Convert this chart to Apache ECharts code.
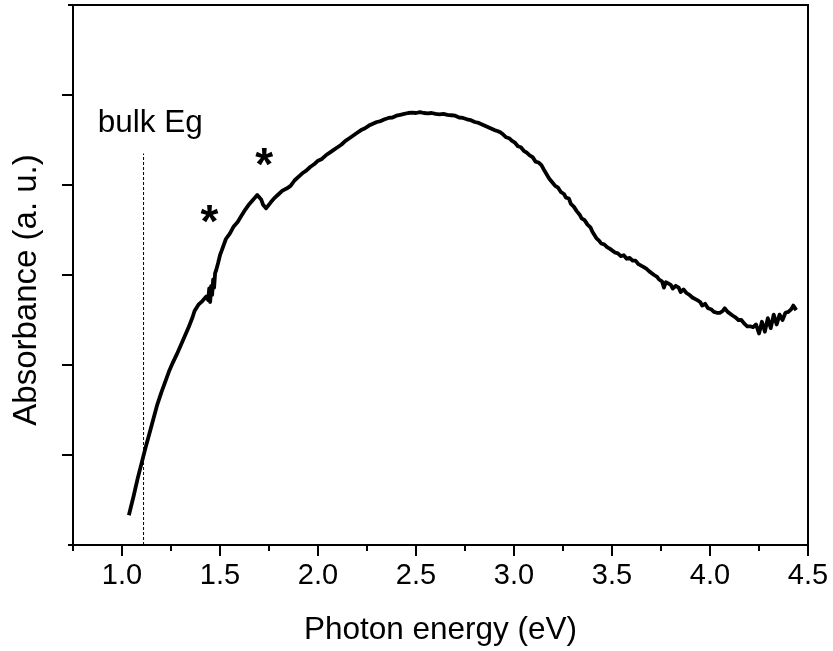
<!DOCTYPE html>
<html>
<head>
<meta charset="utf-8">
<script src="https://cdn.jsdelivr.net/npm/echarts@6/dist/echarts.min.js"></script>
<style>
  html, body { margin: 0; padding: 0; background: #fff; }
  #chart { width: 833px; height: 651px; }
</style>
</head>
<body>
<div id="chart"></div>
<script>
// absorbance spectrum (eV, a.u.)
const absorbance = [
  [1.035, 0.33], [1.06, 0.55], [1.08, 0.74], [1.10, 0.91], [1.12, 1.08], [1.14, 1.24],
  [1.16, 1.40], [1.18, 1.56], [1.20, 1.69], [1.22, 1.81], [1.24, 1.93], [1.26, 2.03],
  [1.28, 2.12], [1.30, 2.22], [1.32, 2.32], [1.34, 2.42], [1.36, 2.53], [1.37, 2.60],
  [1.38, 2.62], [1.39, 2.67], [1.40, 2.66], [1.41, 2.71], [1.42, 2.70], [1.43, 2.76],
  [1.44, 2.72], [1.445, 2.85], [1.45, 2.70], [1.455, 2.88], [1.46, 2.78], [1.465, 2.95],
  [1.47, 2.86], [1.475, 3.02], [1.48, 3.05], [1.49, 3.13], [1.50, 3.22], [1.51, 3.28],
  [1.53, 3.40], [1.55, 3.46], [1.57, 3.54], [1.59, 3.59], [1.61, 3.66], [1.63, 3.73],
  [1.65, 3.79], [1.67, 3.84], [1.69, 3.89], [1.70, 3.90], [1.71, 3.84], [1.72, 3.78],
  [1.735, 3.74], [1.745, 3.76], [1.76, 3.81], [1.78, 3.86], [1.80, 3.90], [1.82, 3.94],
  [1.84, 3.96], [1.86, 3.99], [1.88, 4.05], [1.90, 4.09], [1.92, 4.13], [1.94, 4.16],
  [1.96, 4.20], [1.98, 4.23], [2.00, 4.27], [2.02, 4.29], [2.04, 4.33], [2.06, 4.36],
  [2.08, 4.39], [2.10, 4.42], [2.12, 4.45], [2.14, 4.49], [2.16, 4.52], [2.18, 4.55],
  [2.20, 4.58], [2.22, 4.61], [2.24, 4.63], [2.26, 4.66], [2.28, 4.68], [2.30, 4.70],
  [2.32, 4.71], [2.34, 4.73], [2.36, 4.745], [2.38, 4.75], [2.40, 4.77], [2.42, 4.78],
  [2.44, 4.79], [2.46, 4.80], [2.48, 4.805], [2.50, 4.80], [2.52, 4.81], [2.54, 4.80],
  [2.56, 4.795], [2.58, 4.80], [2.60, 4.79], [2.62, 4.785], [2.64, 4.79], [2.66, 4.78],
  [2.68, 4.775], [2.70, 4.77], [2.72, 4.75], [2.74, 4.745], [2.76, 4.73], [2.78, 4.72],
  [2.80, 4.70], [2.82, 4.69], [2.84, 4.67], [2.86, 4.65], [2.88, 4.63], [2.90, 4.61],
  [2.915, 4.60], [2.93, 4.585], [2.945, 4.56], [2.96, 4.53], [2.975, 4.52], [2.99, 4.49],
  [3.005, 4.47], [3.02, 4.43], [3.035, 4.42], [3.05, 4.38], [3.065, 4.36], [3.08, 4.33],
  [3.095, 4.31], [3.11, 4.26], [3.125, 4.25], [3.14, 4.22], [3.155, 4.16], [3.165, 4.17],
  [3.18, 4.07], [3.195, 4.03], [3.21, 3.99], [3.225, 3.97], [3.24, 3.92], [3.255, 3.90],
  [3.265, 3.86], [3.28, 3.85], [3.29, 3.79], [3.305, 3.76], [3.32, 3.71], [3.335, 3.67],
  [3.345, 3.63], [3.36, 3.61], [3.375, 3.56], [3.39, 3.53], [3.40, 3.48], [3.41, 3.46],
  [3.42, 3.41], [3.435, 3.38], [3.445, 3.35], [3.46, 3.34], [3.475, 3.31], [3.49, 3.29],
  [3.50, 3.29], [3.515, 3.25], [3.53, 3.24], [3.545, 3.21], [3.56, 3.22], [3.575, 3.18],
  [3.59, 3.19], [3.605, 3.16], [3.62, 3.16], [3.635, 3.12], [3.645, 3.14], [3.66, 3.09],
  [3.675, 3.07], [3.69, 3.04], [3.70, 3.05], [3.715, 3.00], [3.73, 2.98], [3.74, 2.95],
  [3.755, 2.93], [3.765, 2.86], [3.775, 2.92], [3.785, 2.90], [3.80, 2.89], [3.81, 2.85],
  [3.825, 2.88], [3.84, 2.86], [3.85, 2.81], [3.865, 2.84], [3.88, 2.80], [3.895, 2.78],
  [3.91, 2.75], [3.92, 2.77], [3.935, 2.72], [3.95, 2.70], [3.96, 2.66], [3.975, 2.68],
  [3.99, 2.63], [4.005, 2.62], [4.02, 2.59], [4.035, 2.58], [4.05, 2.58], [4.065, 2.60],
  [4.075, 2.63], [4.09, 2.59], [4.10, 2.61], [4.115, 2.55], [4.13, 2.53], [4.145, 2.50],
  [4.16, 2.50], [4.175, 2.46], [4.19, 2.43], [4.205, 2.43], [4.22, 2.42], [4.235, 2.45],
  [4.25, 2.35], [4.265, 2.48], [4.28, 2.37], [4.295, 2.52], [4.31, 2.41], [4.325, 2.56],
  [4.34, 2.45], [4.355, 2.56], [4.37, 2.50], [4.385, 2.58], [4.40, 2.59], [4.415, 2.62],
  [4.425, 2.66], [4.44, 2.61]
];

const bulkEg = [[1.11, 0], [1.11, 4.35]];
const notes = [
  { value: [1.144, 4.69], text: 'bulk Eg' },
  { value: [1.446, 3.56], text: '*' },
  { value: [1.726, 4.20], text: '*' }
];

const xMajor = [1.0, 1.5, 2.0, 2.5, 3.0, 3.5, 4.0, 4.5];
const xMinor = [0.75, 1.25, 1.75, 2.25, 2.75, 3.25, 3.75, 4.25];
const yMajor = [1, 2, 3, 4, 5];
const yEnds = [0, 6];

const font = 'Liberation Sans, Arial, sans-serif';
const xRange = { min: 0.75, max: 4.5 };
const yRange = { min: 0, max: 6 };

const option = {
  backgroundColor: '#fff',
  animation: false,
  grid: {
    left: 73, right: 25, top: 5, bottom: 104,
    show: true, borderColor: '#000', borderWidth: 2, backgroundColor: 'transparent'
  },
  graphic: [
    {
      type: 'text',
      x: 27, y: 290,
      rotation: Math.PI / 2,
      style: {
        text: 'Absorbance (a. u.)',
        fontFamily: font, fontSize: 33, fill: '#000',
        align: 'center', verticalAlign: 'middle'
      }
    }
  ],
  xAxis: [
    {
      type: 'value', ...xRange,
      name: 'Photon energy (eV)', nameLocation: 'middle', nameGap: 69,
      nameTextStyle: { fontFamily: font, fontSize: 31.5, color: '#000' },
      axisLine: { show: true, onZero: false, lineStyle: { color: '#000', width: 2 } },
      axisTick: { show: true, customValues: xMajor, length: 11, lineStyle: { color: '#000', width: 2 } },
      axisLabel: { customValues: xMajor, margin: 16, fontFamily: font, fontSize: 29, color: '#000',
        formatter: v => v.toFixed(1) },
      splitLine: { show: false }
    },
    {
      type: 'value', ...xRange, position: 'bottom',
      axisLine: { show: false },
      axisTick: { show: true, customValues: xMinor, length: 6, lineStyle: { color: '#000', width: 2 } },
      axisLabel: { show: false },
      splitLine: { show: false }
    }
  ],
  yAxis: [
    {
      type: 'value', ...yRange,
      axisLine: { show: true, onZero: false, lineStyle: { color: '#000', width: 2 } },
      axisTick: { show: true, customValues: yMajor, length: 11, lineStyle: { color: '#000', width: 2 } },
      axisLabel: { show: false },
      splitLine: { show: false }
    },
    {
      type: 'value', ...yRange, position: 'left',
      axisLine: { show: false },
      axisTick: { show: true, customValues: yEnds, length: 5, lineStyle: { color: '#000', width: 2 } },
      axisLabel: { show: false },
      splitLine: { show: false }
    }
  ],
  series: [
    {
      name: 'bulk Eg line',
      type: 'line',
      data: bulkEg,
      symbol: 'none',
      lineStyle: { color: '#000', width: 1, type: [3, 2] },
      silent: true
    },
    {
      name: 'absorbance',
      type: 'line',
      data: absorbance,
      symbol: 'none',
      lineStyle: { color: '#000', width: 3.8, join: 'round' }
    },
    {
      name: 'notes',
      type: 'scatter',
      symbolSize: 0,
      data: notes.map(n => ({ value: n.value, label: {
        formatter: n.text,
        color: '#000',
        fontFamily: font,
        fontSize: n.text === '*' ? 46 : 31.5,
        fontWeight: n.text === '*' ? 'bold' : 'normal'
      } })),
      label: { show: true, position: 'inside', color: '#000' },
      itemStyle: { opacity: 1 },
      silent: true
    }
  ]
};

const myChart = echarts.init(document.getElementById('chart'), null, { renderer: 'canvas' });
myChart.setOption(option);
window.addEventListener('resize', () => {
  myChart.resize();
});
</script>
</body>
</html>
